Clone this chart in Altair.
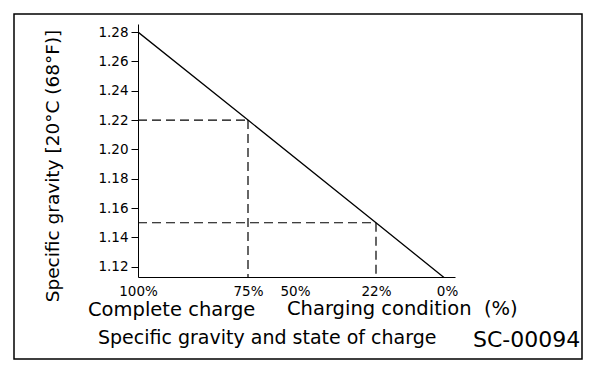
import altair as alt
import pandas as pd

# ---- data ----
charge = [100, 75, 22, 0]                 # charging condition (%)
gravity = [1.28, 1.22, 1.15, 1.111]       # specific gravity
ref_charge = [75, 22]
ref_gravity = [1.22, 1.15]
x_ticks = [100, 75, 50, 22, 0]
y_ticks = [1.12, 1.14, 1.16, 1.18, 1.20, 1.22, 1.24, 1.26, 1.28]

y_title = "Specific gravity [20°C (68°F)]"
x_title_left = "Complete charge"
x_title_right = "Charging condition\u00a0\u00a0(%)"
caption = "Specific gravity and state of charge"
code = "SC-00094"

# ---- layout ----
W, H = 317, 253
FONT = "DejaVu Sans"
x_domain = [100, 75, 50, 22, 0, -2.5]
x_range = [0, 110, 157, 238, 309, W]
y_domain = [1.113, 1.2855]

x_scale = alt.Scale(domain=x_domain, range=x_range, zero=False, nice=False)
y_scale = alt.Scale(domain=y_domain, zero=False, nice=False)

x_axis = alt.Axis(values=x_ticks, labelExpr="datum.value + '%'", ticks=False,
                  labelPadding=7, title=None, grid=False, labelFlush=False,
                  labelOverlap=False, labelAngle=0, labelFont=FONT,
                  labelFontSize=13.5, labelColor="black", domainColor="black")
y_axis = alt.Axis(values=y_ticks, format=".2f", tickSize=7, labelPadding=3,
                  grid=False, labelFlush=False, labelOverlap=False,
                  labelFont=FONT, labelFontSize=13.5, labelColor="black",
                  domainColor="black", tickColor="black",
                  title=y_title, titleX=-80, titleY=141.5, titleAngle=270,
                  titleAlign="center", titleBaseline="alphabetic",
                  titleFont=FONT, titleFontSize=18.5, titleFontWeight="normal",
                  titleColor="black")

line_df = pd.DataFrame({"charge": charge, "gravity": gravity})
ref_df = pd.DataFrame({"charge": ref_charge, "gravity": ref_gravity,
                       "start": [x_ticks[0]] * len(ref_charge),
                       "floor": [y_domain[0]] * len(ref_charge)})
one = pd.DataFrame({"k": [0]})

line = alt.Chart(line_df).mark_line(color="black", strokeWidth=1.3, clip=True).encode(
    x=alt.X("charge:Q", scale=x_scale, axis=x_axis),
    y=alt.Y("gravity:Q", scale=y_scale, axis=y_axis),
)

h_rules = alt.Chart(ref_df).mark_rule(color="black", strokeWidth=1.2, strokeDash=[9, 5]).encode(
    x=alt.X("start:Q", scale=x_scale, axis=x_axis),
    x2="charge:Q",
    y=alt.Y("gravity:Q", scale=y_scale, axis=y_axis),
)

v_rules = alt.Chart(ref_df).mark_rule(color="black", strokeWidth=1.2, strokeDash=[9, 5]).encode(
    x=alt.X("charge:Q", scale=x_scale, axis=x_axis),
    y=alt.Y("gravity:Q", scale=y_scale, axis=y_axis),
    y2="floor:Q",
)

frame = alt.Chart(one).mark_rect(filled=False, stroke="black", strokeWidth=1.5).encode(
    x=alt.value(-124), x2=alt.value(444), y=alt.value(-10), y2=alt.value(335)
)


def label(text, x, y, size):
    return alt.Chart(one).mark_text(
        text=text, font=FONT, fontSize=size, color="black",
        align="left", baseline="alphabetic"
    ).encode(x=alt.value(x), y=alt.value(y))


chart = alt.layer(
    frame, h_rules, v_rules, line,
    label(x_title_left, -50, 292, 19.5),
    label(x_title_right, 149, 291, 19.5),
    label(caption, -40, 320, 19),
    label(code, 335, 323, 22),
).properties(
    width=W, height=H,
    autosize=alt.AutoSizeParams(type="none"),
    padding={"left": 130, "top": 16, "right": 145, "bottom": 85},
    background="white",
).configure_view(stroke=None)

chart.save("out.html", embed_options={"renderer": "svg", "actions": False})
